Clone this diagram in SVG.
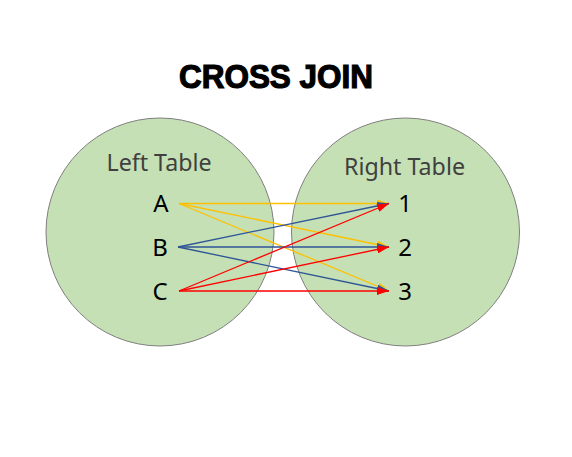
<svg xmlns="http://www.w3.org/2000/svg" width="572" height="457" viewBox="0 0 572 457">
<defs>
<style>
.circle{fill:#c5e0b4;stroke:#7f7f7f;stroke-width:1}
.lbl{font-family:"Noto Sans","Open Sans",sans-serif;font-size:24px;fill:#000;text-anchor:middle}
.ttl{font-family:"Noto Sans","Open Sans",sans-serif;font-size:24px;fill:#404040;text-anchor:middle}
.ya{stroke:#ffc000;stroke-width:1.3;fill:none;marker-end:url(#ay)}
.bl{stroke:#2f5597;stroke-width:1.3;fill:none;marker-end:url(#ab)}
.rd{stroke:#ff0000;stroke-width:1.3;fill:none;marker-end:url(#ar)}
</style>
<marker id="ay" viewBox="0 0 12 8" refX="12" refY="4" markerWidth="12" markerHeight="8" markerUnits="userSpaceOnUse" orient="auto"><path d="M0,0 L12,4 L0,8 Z" fill="#ffc000"/></marker>
<marker id="ab" viewBox="0 0 12 8" refX="12" refY="4" markerWidth="12" markerHeight="8" markerUnits="userSpaceOnUse" orient="auto"><path d="M0,0 L12,4 L0,8 Z" fill="#2f5597"/></marker>
<marker id="ar" viewBox="0 0 12 8" refX="12" refY="4" markerWidth="12" markerHeight="8" markerUnits="userSpaceOnUse" orient="auto"><path d="M0,0 L12,4 L0,8 Z" fill="#ff0000"/></marker>
</defs>
<rect width="572" height="457" fill="#ffffff"/>
<text x="276" y="88" font-family="'Liberation Sans',Arial,sans-serif" font-size="33" font-weight="bold" stroke="#000" stroke-width="1.2" fill="#000" text-anchor="middle" textLength="194" lengthAdjust="spacingAndGlyphs">CROSS JOIN</text>
<g id="left-table">
<circle class="circle" cx="160" cy="232" r="114"/>
<text class="ttl" x="159" y="171" textLength="105" lengthAdjust="spacingAndGlyphs">Left Table</text>
</g>
<g id="right-table">
<circle class="circle" cx="405.5" cy="232" r="114"/>
<text class="ttl" x="404.5" y="175" textLength="121" lengthAdjust="spacingAndGlyphs">Right Table</text>
</g>
<g id="node-A"><text class="lbl" x="161" y="212">A</text></g>
<g id="node-B"><text class="lbl" x="160" y="256">B</text></g>
<g id="node-C"><text class="lbl" x="160" y="300">C</text></g>
<g id="node-1"><text class="lbl" x="405" y="212">1</text></g>
<g id="node-2"><text class="lbl" x="405" y="256">2</text></g>
<g id="node-3"><text class="lbl" x="405" y="300">3</text></g>
<g id="connectors">
<line class="ya" x1="179" y1="203.5" x2="389" y2="203.5"/>
<line class="ya" x1="179" y1="203.5" x2="389" y2="247"/>
<line class="ya" x1="179" y1="203.5" x2="389" y2="291"/>
<line class="bl" x1="178" y1="247" x2="389" y2="203.5"/>
<line class="bl" x1="178" y1="247" x2="389" y2="247"/>
<line class="bl" x1="178" y1="247" x2="389" y2="291"/>
<line class="rd" x1="179" y1="291" x2="389" y2="203.5"/>
<line class="rd" x1="179" y1="291" x2="389" y2="247"/>
<line class="rd" x1="179" y1="291" x2="389" y2="291"/>
</g>
</svg>
